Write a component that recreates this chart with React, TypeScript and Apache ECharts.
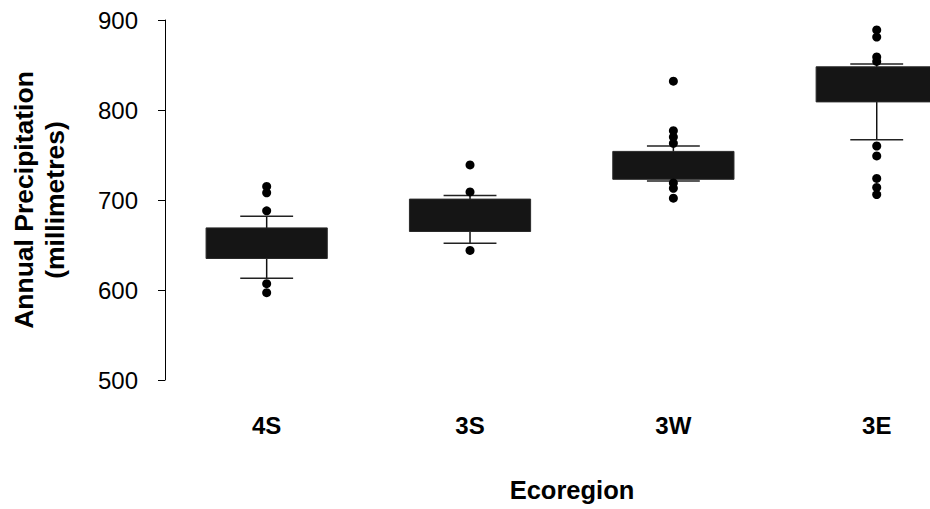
import React, { useEffect, useRef } from "react";
import * as echarts from "echarts";

const categories = ["4S", "3S", "3W", "3E"];
const whiskerLow = [613, 652, 721, 767];
const quartile1 = [635, 665, 723, 809];
const quartile3 = [669, 701, 754, 848];
const whiskerHigh = [682, 705, 760, 851];
const outliers4S = [715, 708, 688, 607, 597];
const outliers3S = [739, 709, 644];
const outliers3W = [832, 777, 770, 763, 719, 713, 702];
const outliers3E = [889, 881, 859, 854, 760, 749, 724, 714, 706];
const yTicks = { min: 500, max: 900, step: 100 };

const FONT = "'Liberation Sans', Arial, Helvetica, sans-serif";

export default function App() {
  const ref = useRef<HTMLDivElement>(null);

  useEffect(() => {
    if (!ref.current) return;
    const chart = echarts.init(ref.current, null, { renderer: "svg" });

    const catIndex = categories.map((_, i) => i);
    const boxData = catIndex.map((i) => [
      i,
      whiskerLow[i],
      quartile1[i],
      quartile3[i],
      whiskerHigh[i],
    ]);
    const outlierGroups = [outliers4S, outliers3S, outliers3W, outliers3E];
    const outlierData: number[][] = [];
    outlierGroups.forEach((g, i) => g.forEach((v) => outlierData.push([i, v])));

    const option: any = {
      animation: false,
      textStyle: { fontFamily: FONT },
      grid: { left: 160, right: 0, top: 20, height: 360 },
      xAxis: {
        type: "value",
        min: -0.5,
        max: 3.262,
        axisLine: { show: false, onZero: false },
        axisTick: { show: false },
        splitLine: { show: false },
        axisLabel: {
          customValues: catIndex,
          formatter: (v: number) => categories[Math.round(v)] ?? "",
          fontSize: 24,
          fontWeight: "bold",
          color: "#000",
          margin: 33,
          fontFamily: FONT,
        },
        name: "Ecoregion",
        nameLocation: "middle",
        nameGap: 97,
        nameTextStyle: {
          fontSize: 25.5,
          fontWeight: "bold",
          color: "#000",
          fontFamily: FONT,
          padding: [0, 0, 0, 49],
        },
      },
      yAxis: {
        type: "value",
        min: yTicks.min,
        max: yTicks.max,
        interval: yTicks.step,
        axisLine: { show: true, onZero: false, lineStyle: { color: "#000", width: 1 } },
        axisTick: { show: true, length: 7, lineStyle: { color: "#000" } },
        splitLine: { show: false },
        axisLabel: {
          fontSize: 24,
          color: "#000",
          margin: 27,
          fontFamily: FONT,
        },
        name: "Annual Precipitation\n(millimetres)",
        nameLocation: "middle",
        nameGap: 95,
        nameRotate: 90,
        nameTextStyle: {
          fontSize: 26.5,
          fontWeight: "bold",
          color: "#000",
          lineHeight: 31,
          fontFamily: FONT,
        },
      },
      series: [
        {
          type: "custom",
          data: boxData,
          clip: false,
          renderItem: (params: any, api: any) => {
            const idx = api.value(0);
            const band = api.size([1, 0])[0];
            const boxW = band * 0.596;
            const capW = band * 0.26;
            const pWL = api.coord([idx, api.value(1)]);
            const pQ1 = api.coord([idx, api.value(2)]);
            const pQ3 = api.coord([idx, api.value(3)]);
            const pWH = api.coord([idx, api.value(4)]);
            const x = pQ1[0];
            return {
              type: "group",
              children: [
                {
                  type: "line",
                  shape: { x1: x, y1: pWH[1], x2: x, y2: pWL[1] },
                  style: { stroke: "#111", lineWidth: 1.5 },
                },
                {
                  type: "line",
                  shape: { x1: x - capW / 2, y1: pWH[1], x2: x + capW / 2, y2: pWH[1] },
                  style: { stroke: "#222", lineWidth: 1.5 },
                },
                {
                  type: "line",
                  shape: { x1: x - capW / 2, y1: pWL[1], x2: x + capW / 2, y2: pWL[1] },
                  style: { stroke: "#222", lineWidth: 1.5 },
                },
                {
                  type: "rect",
                  shape: {
                    x: x - boxW / 2,
                    y: pQ3[1],
                    width: boxW,
                    height: pQ1[1] - pQ3[1],
                  },
                  style: { fill: "#151515", stroke: "#2a2a2a", lineWidth: 1 },
                },
              ],
            };
          },
        },
        {
          type: "scatter",
          data: outlierData,
          symbol: "circle",
          symbolSize: 9,
          itemStyle: { color: "#000", opacity: 1 },
          z: 3,
        },
      ],
    };

    chart.setOption(option);
    return () => chart.dispose();
  }, []);

  return (
    <div
      ref={ref}
      style={{
        position: "absolute",
        left: 0,
        top: 0,
        width: 930,
        height: 509,
        background: "#fff",
      }}
    />
  );
}
